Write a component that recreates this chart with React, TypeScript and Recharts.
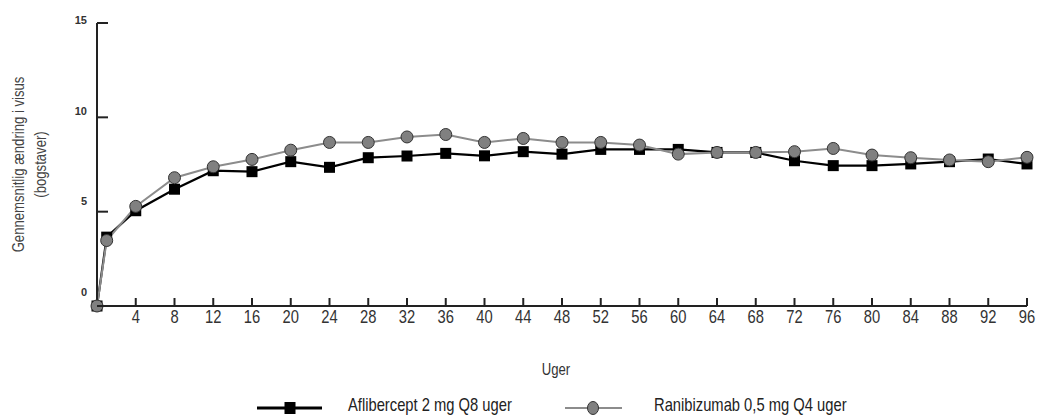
import { Line, LineChart, XAxis, YAxis } from "recharts";

const FONT = "'Liberation Sans', Arial, sans-serif";
const SQUEEZE = 0.82; // no narrow font installed, so condense regular text

const WEEKS = [0, 1, 4, 8, 12, 16, 20, 24, 28, 32, 36, 40, 44, 48, 52, 56, 60, 64, 68, 72, 76, 80, 84, 88, 92, 96];
const AFLIBERCEPT = [
  0, 3.65, 5.05, 6.19, 7.17, 7.12, 7.65, 7.35, 7.86, 7.95, 8.09, 7.96, 8.18, 8.05, 8.3, 8.3, 8.3, 8.14, 8.14,
  7.7, 7.44, 7.44, 7.53, 7.65, 7.79, 7.53,
];
const RANIBIZUMAB = [
  0, 3.47, 5.28, 6.8, 7.38, 7.77, 8.26, 8.67, 8.67, 8.96, 9.09, 8.67, 8.88, 8.67, 8.67, 8.53, 8.05, 8.14, 8.14,
  8.18, 8.35, 8.0, 7.86, 7.74, 7.65, 7.88,
];
const X_TICKS = [4, 8, 12, 16, 20, 24, 28, 32, 36, 40, 44, 48, 52, 56, 60, 64, 68, 72, 76, 80, 84, 88, 92, 96];
const Y_TICKS = [0, 5, 10, 15];

const SERIES_A = "Aflibercept 2 mg Q8 uger";
const SERIES_R = "Ranibizumab 0,5 mg Q4 uger";

const data = WEEKS.map((week, i) => ({
  week,
  aflibercept: AFLIBERCEPT[i],
  ranibizumab: RANIBIZUMAB[i],
}));

const Narrow = ({ x, y, rotate = 0, anchor = "start", size, fill = "#333", children }: any) => (
  <text
    transform={`translate(${x} ${y}) rotate(${rotate}) scale(${SQUEEZE} 1)`}
    x={0}
    y={0}
    textAnchor={anchor}
    fontFamily={FONT}
    fontSize={size}
    fill={fill}
  >
    {children}
  </text>
);

const XTick = ({ x, y, payload }: any) => (
  <g>
    <line x1={x} x2={x} y1={y - 8} y2={y} stroke="#222" strokeWidth={2} />
    <Narrow x={x} y={y + 17} anchor="middle" size={18}>
      {payload.value}
    </Narrow>
  </g>
);

const YTick = ({ x, y, payload }: any) => {
  // labels sit a little above their ticks, more so towards the bottom
  const lift = 3 + (15 - payload.value) * 0.72;
  return (
    <g>
      <line x1={x} x2={x + 11} y1={y} y2={y} stroke="#222" strokeWidth={2} />
      <text x={x - 10} y={y - lift + 4} textAnchor="end" fontSize={11} fontWeight="bold" fontFamily={FONT} fill="#333">
        {payload.value}
      </text>
    </g>
  );
};

const YTitle = ({ viewBox }: any) => {
  const cy = viewBox.y + viewBox.height / 2;
  return (
    <g>
      <Narrow x={24} y={cy} rotate={-90} anchor="middle" size={16} fill="#444">
        Gennemsnitlig ændring i visus
      </Narrow>
      <Narrow x={46} y={cy} rotate={-90} anchor="middle" size={16} fill="#444">
        (bogstaver)
      </Narrow>
    </g>
  );
};

const XTitle = ({ viewBox }: any) => (
  <Narrow x={viewBox.x + viewBox.width / 2 - 6} y={viewBox.y + 69} anchor="middle" size={16}>
    Uger
  </Narrow>
);

const SquareDot = ({ cx, cy }: any) => <rect x={cx - 5.5} y={cy - 5.5} width={11} height={11} fill="#000" />;

const CircleDot = ({ cx, cy }: any) => (
  <circle cx={cx} cy={cy} r={6} fill="#808080" stroke="#333" strokeWidth={1} />
);

const ChartLegend = () => (
  <svg width={1039} height={24} style={{ position: "absolute", left: 0, top: 391, display: "block" }}>
    <line x1={257} x2={322} y1={17} y2={17} stroke="#000" strokeWidth={3} />
    <rect x={284.5} y={11} width={11} height={12} fill="#000" />
    <Narrow x={348} y={20} size={18} fill="#222">
      {SERIES_A}
    </Narrow>
    <line x1={565} x2={622} y1={17} y2={17} stroke="#8c8c8c" strokeWidth={2} />
    <ellipse cx={593} cy={17} rx={5.5} ry={6.5} fill="#808080" stroke="#333" strokeWidth={1} />
    <Narrow x={654} y={20} size={18} fill="#222">
      {SERIES_R}
    </Narrow>
  </svg>
);

export default function App() {
  return (
    <div style={{ position: "absolute", left: 0, top: 0, width: 1039, height: 415, background: "#fff" }}>
      <LineChart width={1039} height={415} data={data} margin={{ top: 23, right: 12, bottom: 0, left: 0 }}>
        <XAxis
          dataKey="week"
          type="number"
          domain={[0, 96]}
          ticks={X_TICKS}
          interval={0}
          height={109}
          tickSize={0}
          tickMargin={0}
          tickLine={false}
          axisLine={{ stroke: "#222", strokeWidth: 2 }}
          tick={<XTick />}
          label={<XTitle />}
        />
        <YAxis
          type="number"
          domain={[0, 15]}
          ticks={Y_TICKS}
          interval={0}
          width={97}
          tickSize={0}
          tickMargin={0}
          tickLine={false}
          axisLine={{ stroke: "#222", strokeWidth: 2 }}
          tick={<YTick />}
          label={<YTitle />}
        />
        <Line
          name={SERIES_A}
          dataKey="aflibercept"
          type="linear"
          stroke="#000"
          strokeWidth={2.2}
          dot={<SquareDot />}
          activeDot={false}
          isAnimationActive={false}
        />
        <Line
          name={SERIES_R}
          dataKey="ranibizumab"
          type="linear"
          stroke="#8c8c8c"
          strokeWidth={2}
          dot={<CircleDot />}
          activeDot={false}
          isAnimationActive={false}
        />
      </LineChart>
      <ChartLegend />
    </div>
  );
}
